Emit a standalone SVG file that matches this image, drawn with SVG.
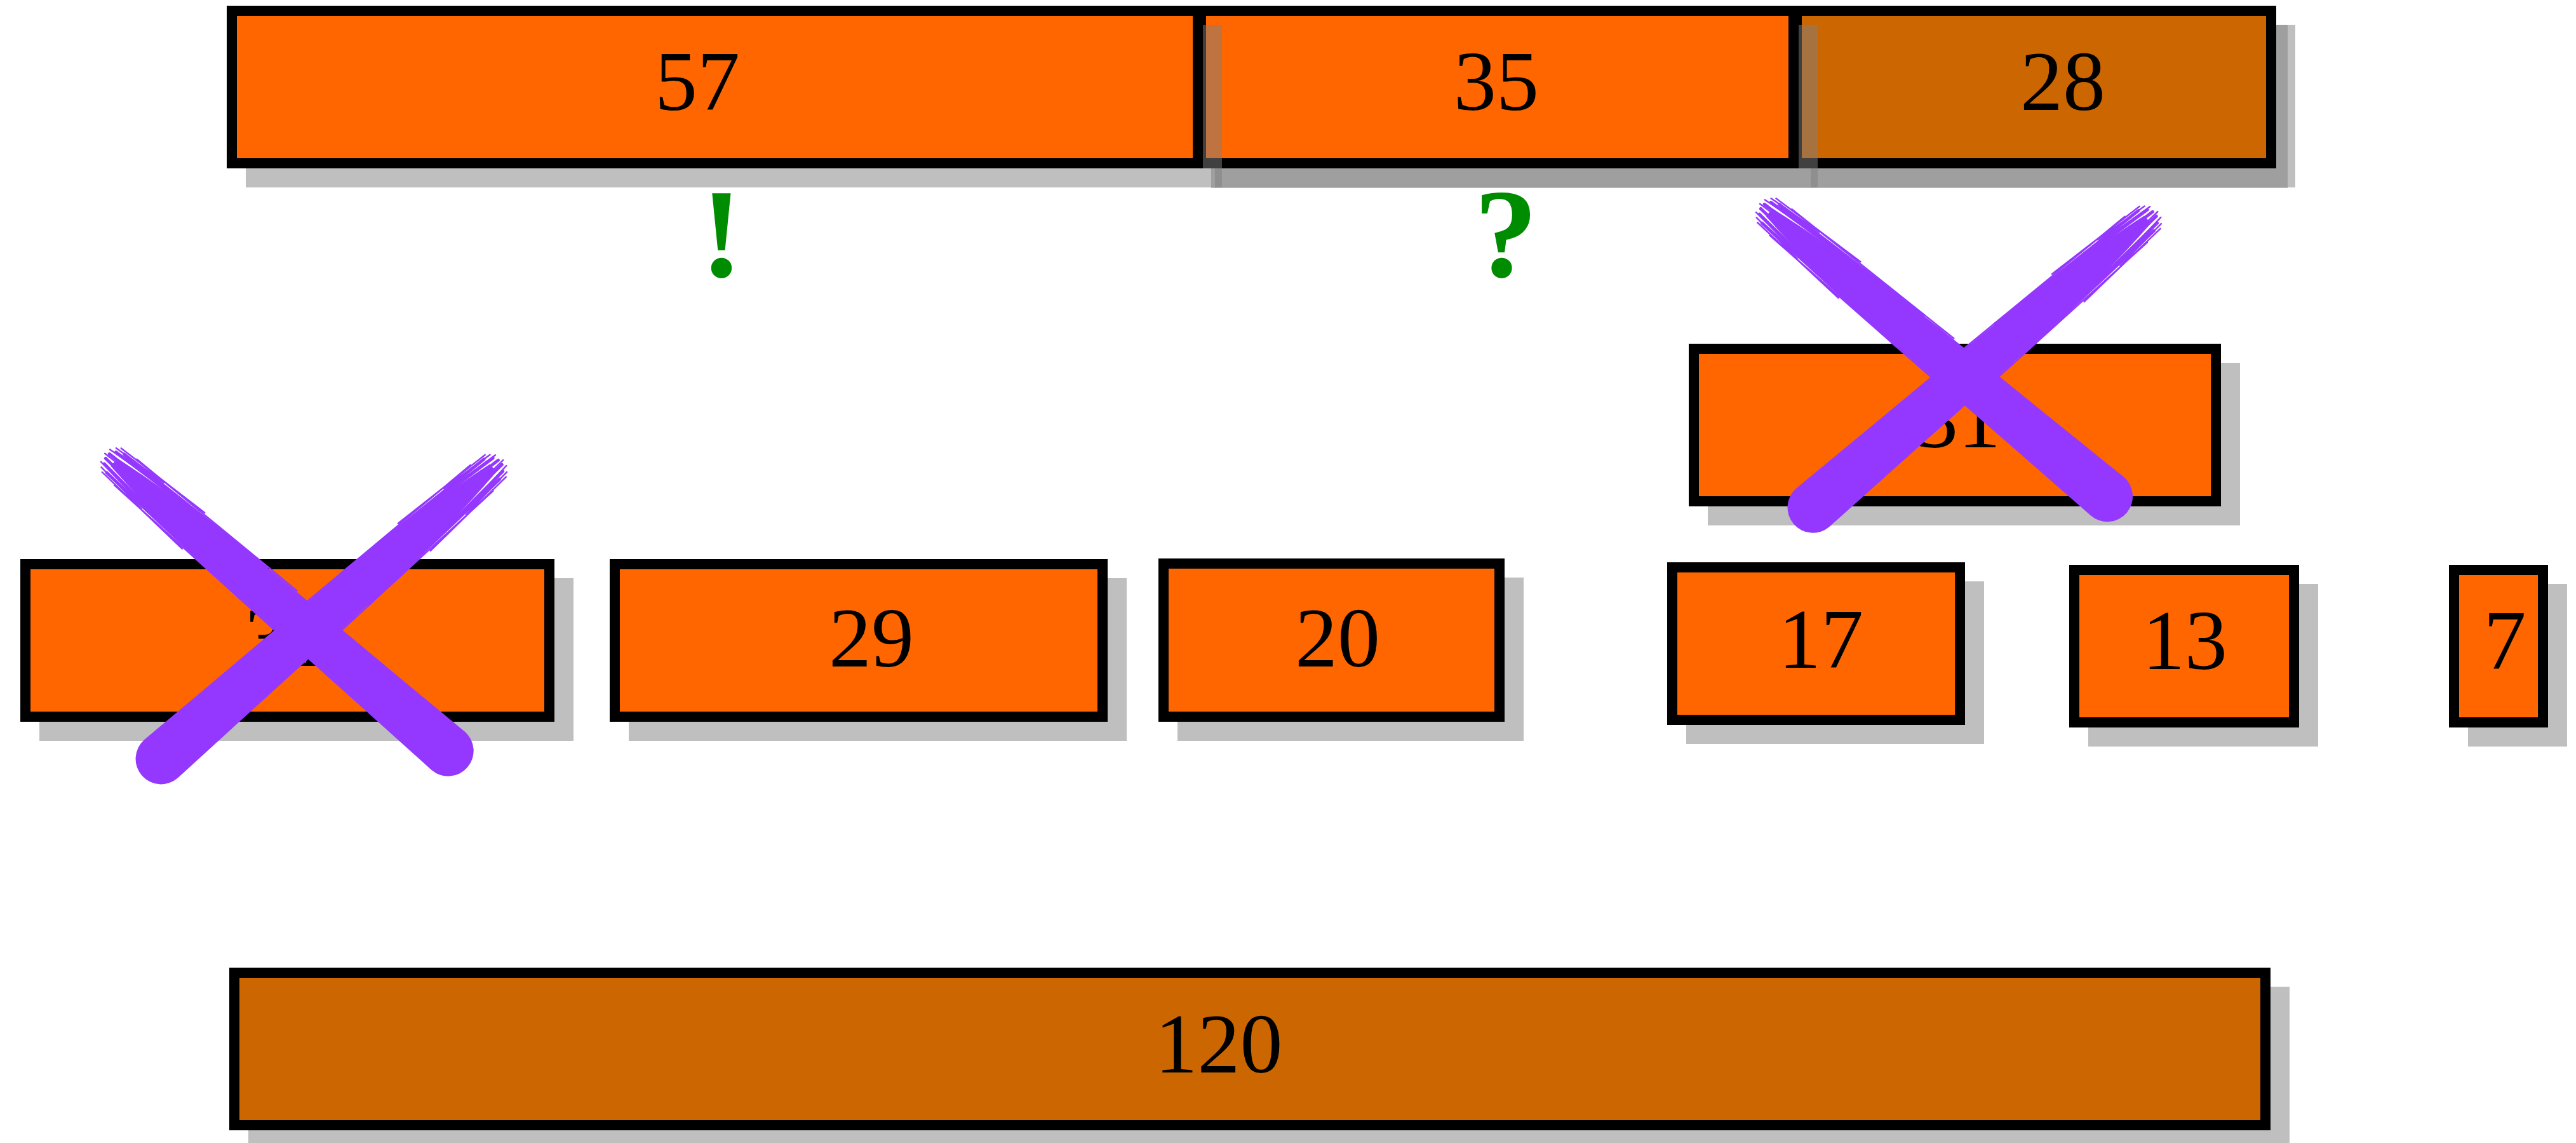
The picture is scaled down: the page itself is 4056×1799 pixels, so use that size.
<svg xmlns="http://www.w3.org/2000/svg" xmlns:xlink="http://www.w3.org/1999/xlink" width="4056" height="1799" viewBox="0 0 4056 1799">
<style>
.box{stroke:#000;stroke-width:16}
.o{fill:#ff6600}
.d{fill:#cc6600}
.sh{fill:#808080;fill-opacity:0.5}
.t{font-family:"Liberation Serif","DejaVu Serif",serif;font-size:134px;text-anchor:middle;fill:#000}
.m{font-family:"Liberation Serif","DejaVu Serif",serif;font-weight:bold;font-size:200px;text-anchor:middle;fill:#008c00}
.x{fill:#9538ff}
.hair{fill:none;stroke:#9538ff;stroke-linecap:round}
</style>
<defs>
<g id="brush">
<path class="x" d="M10,-8 C80,-18 190,-28 330,-33 L560,-37 L705,-40 A40,40 0 0 1 705,40 L560,37 L330,33 C190,28 80,18 10,8 Z"/>
<path class="hair" stroke-width="5" d="M2,-14 L240,-30 M0,12 L230,30 M14,-20 L300,-32 M12,20 L300,32 M-4,-5 L200,-16 M-4,4 L190,16"/>
<path class="hair" stroke-width="2.5" d="M-8,-11 L120,-24 M-6,13 L140,26 M-10,-1 L100,-7 M4,-24 L170,-33 M6,24 L180,33 M34,-27 L360,-35 M34,27 L380,35 M-2,-19 L90,-27 M0,19 L90,27"/>
</g>
</defs>
<rect class="sh" x="1907" y="39" width="1695" height="257"/>
<g id="n28">
<rect class="sh" x="2851" y="39" width="763" height="256"/>
<rect class="box d" x="2829" y="17" width="747" height="240"/>
<text class="t" x="3248" y="173">28</text>
</g>
<g id="n35">
<rect class="sh" x="1913" y="39" width="949" height="256"/>
<rect class="box o" x="1891" y="17" width="933" height="240"/>
<text class="t" x="2356" y="173">35</text>
</g>
<g id="n57">
<rect class="sh" x="387" y="39" width="1537" height="256"/>
<rect class="box o" x="365" y="17" width="1521" height="240"/>
<text class="t" x="1098" y="173">57</text>
</g>
<text class="m" x="1136" y="435">!</text>
<text class="m" x="2371" y="435">?</text>
<g id="n31top">
<rect class="sh" x="2689" y="571" width="838" height="256"/>
<rect class="box o" x="2667" y="549" width="822" height="240"/>
<text class="t" x="3083" y="704">31</text>
</g>
<g id="cross2">
<use href="#brush" xlink:href="#brush" transform="translate(2778,328) rotate(40)"/>
<use href="#brush" xlink:href="#brush" transform="translate(3389,339) rotate(139.3)"/>
</g>
<g id="n31">
<rect class="sh" x="62" y="910" width="841" height="256"/>
<rect class="box o" x="40" y="888" width="825" height="240"/>
<text class="t" x="452" y="1048">31</text>
</g>
<g id="n29">
<rect class="sh" x="990" y="910" width="784" height="256"/>
<rect class="box o" x="968" y="888" width="768" height="240"/>
<text class="t" x="1372" y="1049">29</text>
</g>
<g id="n20">
<rect class="sh" x="1854" y="909" width="545" height="257"/>
<rect class="box o" x="1832" y="887" width="529" height="241"/>
<text class="t" x="2106" y="1049">20</text>
</g>
<g id="n17">
<rect class="sh" x="2655" y="915" width="469" height="256"/>
<rect class="box o" x="2633" y="893" width="453" height="240"/>
<text class="t" x="2867" y="1051">17</text>
</g>
<g id="n13">
<rect class="sh" x="3288" y="919" width="362" height="256"/>
<rect class="box o" x="3266" y="897" width="346" height="240"/>
<text class="t" x="3440" y="1053">13</text>
</g>
<g id="n7">
<rect class="sh" x="3886" y="919" width="156" height="256"/>
<rect class="box o" x="3864" y="897" width="140" height="240"/>
<text class="t" x="3944" y="1053">7</text>
</g>
<g id="cross1">
<use href="#brush" xlink:href="#brush" transform="translate(172,721) rotate(40.8)"/>
<use href="#brush" xlink:href="#brush" transform="translate(784,730) rotate(138.8)"/>
</g>
<g id="n120">
<rect class="sh" x="391" y="1553" width="3214" height="256"/>
<rect class="box d" x="369" y="1531" width="3198" height="240"/>
<text class="t" x="1919" y="1688">120</text>
</g>
</svg>
